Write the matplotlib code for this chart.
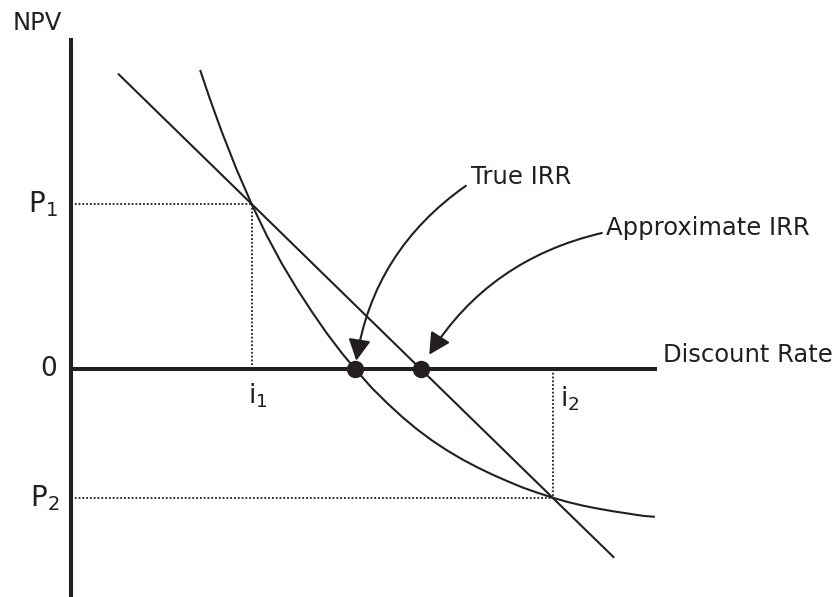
import matplotlib
matplotlib.use('Agg')
import matplotlib.pyplot as plt

# values (discount rate in %, NPV in arbitrary units)
rate_curve = [4.29, 4.6, 5.0, 5.5, 6.0, 6.5, 7.0, 7.5, 8.0, 8.5, 9.0, 9.44,
              10.0, 10.5, 11.0, 11.5, 12.0, 12.5, 13.0, 13.5, 14.0, 14.5,
              15.0, 15.5, 16.0, 16.5, 17.0, 17.5, 18.0, 18.5, 19.0, 19.4]
npv_curve = [9.06, 8.22, 7.21, 6.05, 5.00, 4.05, 3.20, 2.44, 1.74, 1.08, 0.48, 0.00,
             -0.58, -1.03, -1.45, -1.83, -2.17, -2.47, -2.74, -2.98, -3.20, -3.40,
             -3.59, -3.75, -3.90, -4.03, -4.14, -4.23, -4.31, -4.38, -4.45, -4.48]

rate_line = [1.56, 6.00, 16.00, 18.05]
npv_line = [8.95, 5.00, -3.90, -5.72]

i1, i2 = 6.0, 16.0
p1, p2 = 5.0, -3.9
true_irr = 9.44
approx_irr = 11.62

axis_top = 10.03
axis_right = 19.47

ink = '#231f20'
plt.rcParams['font.family'] = ['DejaVu Sans']
plt.rcParams['mathtext.fontset'] = 'dejavusans'

fig = plt.figure(figsize=(8.39, 5.97), dpi=100)
ax = fig.add_axes([0, 0, 1, 1])
ax.set_xlim(-2.36, 25.52)
ax.set_ylim(-6.91, 11.18)
ax.axis('off')

# axes drawn by hand
ymin = ax.get_ylim()[0]
ax.plot([0, 0], [ymin, axis_top], color=ink, lw=2.9, solid_capstyle='butt')
ax.plot([0, axis_right], [0, 0], color=ink, lw=2.9, solid_capstyle='butt')

# dotted guides
dots = dict(color=ink, lw=1.3, linestyle=(0, (1, 1.1)))
ax.plot([0, i1], [p1, p1], **dots)
ax.plot([i1, i1], [p1, 0], **dots)
ax.plot([0, i2], [p2, p2], **dots)
ax.plot([i2, i2], [0, p2], **dots)

# NPV profile and straight-line approximation
ax.plot(rate_curve, npv_curve, color=ink, lw=1.5, solid_capstyle='butt',
        solid_joinstyle='round')
ax.plot(rate_line, npv_line, color=ink, lw=1.5, solid_capstyle='butt')

ax.plot([true_irr, approx_irr], [0, 0], 'o', color=ink, markersize=11.5, zorder=5)

# labels
fs = 17.5
ax.text(-1.13, 10.47, 'NPV', fontsize=fs, ha='center', va='center', color=ink)
ax.text(19.67, 0.21, 'Discount Rate', fontsize=fs, ha='left', va='baseline', color=ink)
ax.text(13.29, 5.83, 'True IRR', fontsize=fs, ha='left', va='center', color=ink)
ax.text(17.77, 4.27, 'Approximate IRR', fontsize=fs, ha='left', va='center', color=ink)

lab = dict(xycoords='data', textcoords='offset points', color=ink)
ax.annotate(r'$\mathregular{P_1}$', (0, p1), xytext=(-9.5, 0), fontsize=20,
            ha='right', va='center', **lab)
ax.annotate('0', (0, 0), xytext=(-10, 0), fontsize=19, ha='right', va='center', **lab)
ax.annotate(r'$\mathregular{P_2}$', (0, p2), xytext=(-8.5, 0), fontsize=20,
            ha='right', va='center', **lab)
ax.annotate(r'$\mathregular{i_1}$', (i1, 0), xytext=(-2.5, -9), fontsize=19,
            ha='left', va='top', **lab)
ax.annotate(r'$\mathregular{i_2}$', (i2, 0), xytext=(5.5, -11), fontsize=19,
            ha='left', va='top', **lab)

# curved arrows
arrow = dict(arrowstyle='-|>,head_length=0.65,head_width=0.34', color=ink, lw=1.5,
             shrinkA=0, mutation_scale=20)
ax.annotate('', xy=(true_irr, 0), xytext=(13.12, 5.55),
            arrowprops=dict(connectionstyle='arc3,rad=0.22', shrinkB=6, **arrow))
ax.annotate('', xy=(approx_irr, 0), xytext=(17.64, 4.12),
            arrowprops=dict(connectionstyle='arc3,rad=0.22', shrinkB=12, **arrow))

fig.savefig('out.png', dpi=100)
plt.close(fig)
